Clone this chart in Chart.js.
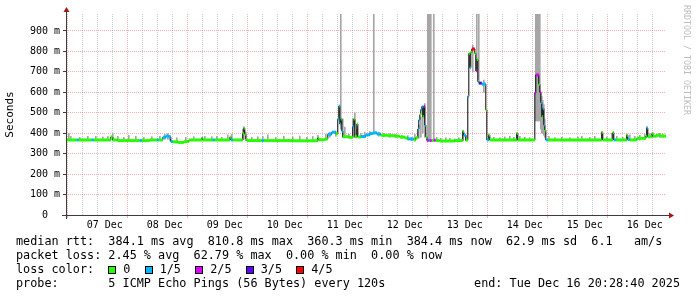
<!DOCTYPE html>
<html>
<head>
<meta charset="utf-8">
<script src="https://cdn.jsdelivr.net/npm/chart.js@4/dist/chart.umd.min.js"></script>
<style>
  html, body { margin: 0; padding: 0; background: #fff; }
  #wrap { position: relative; width: 697px; height: 297px; overflow: hidden; background: #fff; }
  #smoke-chart { position: absolute; left: 0; top: 0; }
  .leg { position: absolute; font: 11.8px 'DejaVu Sans Mono', monospace; white-space: pre; color: #000; line-height: 14px; }
  .box { display: inline-block; width: 6px; height: 6px; border: 1px solid #000; margin-right: 7px; vertical-align: -1px; }
  #credit { position: absolute; left: 682px; top: 5px; writing-mode: vertical-rl; font: 8.3px 'DejaVu Sans Mono', monospace; color: #bdbdbd; white-space: pre; line-height: 10px; }
</style>
</head>
<body>
<div id="wrap">
  <canvas id="smoke-chart" width="697" height="297"></canvas>
  <div class="leg" id="l1" style="left:16px; top:234px"></div>
  <div class="leg" id="l2" style="left:16px; top:248px"></div>
  <div class="leg" id="l3" style="left:16px; top:262px"></div>
  <div class="leg" id="l4" style="left:16px; top:276px"></div>
  <div class="leg" id="l5" style="right:17px; top:276px"></div>
  <div id="credit">RRDTOOL / TOBI OETIKER</div>
</div>
<script>
// time is day of December (decimal), window ends Tue Dec 16 20:28:40
const startDay = 6 + 20.478 / 24;
const endDay = 16 + 20.478 / 24;

const dayLabels = ['07 Dec', '08 Dec', '09 Dec', '10 Dec', '11 Dec', '12 Dec', '13 Dec', '14 Dec', '15 Dec', '16 Dec'];
const yTickLabels = ['0  ', '100 m', '200 m', '300 m', '400 m', '500 m', '600 m', '700 m', '800 m', '900 m'];

// median rtt (ms), step starts
const medianTime = [
  6.853, 7.033, 7.067, 7.283, 7.317, 7.600, 7.633, 7.717, 8.083, 8.117,
  8.250, 8.367, 8.400, 8.467, 8.517, 8.567, 8.600, 8.633, 8.717, 8.817,
  8.900, 9.117, 9.133, 9.300, 9.333, 9.583, 9.600, 9.633, 9.800, 9.817,
  9.833, 9.850, 9.867, 10.117, 10.150, 10.633, 11.050, 11.067, 11.167, 11.217,
  11.283, 11.350, 11.383, 11.400, 11.417, 11.433, 11.450, 11.467, 11.567, 11.633,
  11.650, 11.667, 11.700, 11.717, 11.767, 11.850, 11.917, 11.967, 12.033, 12.100,
  12.217, 12.333, 12.417, 12.500, 12.550, 12.650, 12.683, 12.717, 12.733, 12.750,
  12.767, 12.783, 12.800, 12.817, 12.833, 12.850, 12.867, 12.900, 12.917, 12.950,
  12.983, 13.017, 13.083, 13.333, 13.467, 13.483, 13.517, 13.550, 13.567, 13.583,
  13.600, 13.617, 13.667, 13.683, 13.700, 13.717, 13.733, 13.783, 13.850, 13.867,
  13.900, 13.917, 14.367, 14.383, 14.667, 14.683, 14.733, 14.750, 14.767, 14.783,
  14.800, 14.817, 14.833, 14.850, 14.883, 15.783, 15.800, 15.967, 15.983, 16.017,
  16.200, 16.217, 16.250, 16.367, 16.517, 16.533, 16.550, 16.617, 16.633, 16.683, 16.750
];
const medianRtt = [
  367, 367, 367, 367, 367, 382, 367, 364, 364, 364,
  367, 367, 367, 380, 386, 381, 359, 358, 355, 359,
  367, 378, 367, 367, 367, 380, 367, 367, 398, 424,
  395, 372, 364, 364, 364, 363, 377, 368, 372, 395,
  405, 398, 470, 533, 445, 470, 410, 383, 380, 432,
  470, 383, 445, 382, 384, 392, 398, 402, 396, 390,
  388, 385, 381, 377, 372, 367, 378, 420, 465, 490,
  515, 530, 480, 532, 440, 382, 365, 365, 364, 364,
  366, 364, 362, 364, 408, 390, 366, 580, 790, 720,
  795, 812, 790, 705, 760, 652, 645, 640, 514, 367,
  390, 367, 398, 367, 597, 685, 640, 600, 550, 480,
  520, 440, 416, 367, 367, 403, 367, 403, 367, 367,
  390, 370, 367, 375, 385, 425, 383, 398, 385, 390, 386
];
// lost pings out of 5
const medianLoss = [
  0, 1, 0, 1, 0, 0, 0, 0, 1, 0,
  0, 1, 0, 1, 1, 1, 1, 0, 0, 0,
  0, 0, 0, 1, 0, 0, 1, 0, 0, 0,
  0, 0, 0, 1, 0, 0, 0, 0, 0, 1,
  1, 0, 1, 1, 1, 0, 1, 0, 0, 1,
  0, 0, 0, 0, 1, 1, 1, 1, 1, 0,
  0, 0, 0, 0, 1, 0, 0, 1, 1, 0,
  1, 1, 0, 2, 1, 0, 2, 1, 2, 0,
  2, 0, 0, 0, 0, 1, 0, 1, 0, 1,
  0, 4, 0, 2, 0, 0, 3, 1, 0, 1,
  0, 0, 0, 0, 2, 2, 0, 2, 1, 0,
  1, 1, 0, 1, 0, 0, 0, 0, 1, 0,
  0, 1, 0, 0, 0, 1, 0, 0, 0, 0, 0
];

// smoke: spread of the single pings (ms)
const smokeTime = [
  6.900, 6.933, 7.083, 7.217, 7.350, 7.467, 7.550, 7.633, 7.717, 7.817,
  7.900, 8.017, 8.150, 8.283, 8.417, 8.500, 8.550, 8.583, 8.700, 8.850,
  8.983, 9.167, 9.283, 9.367, 9.450, 9.550, 9.617, 9.800, 9.817, 9.850,
  9.950, 10.050, 10.133, 10.217, 10.350, 10.483, 10.633, 10.750, 10.867, 10.967,
  11.050, 11.183, 11.250, 11.350, 11.433, 11.467, 11.500, 11.567, 11.633, 11.667,
  11.700, 11.767, 11.833, 11.917, 11.983, 12.067, 12.150, 12.250, 12.350, 12.450,
  12.550, 12.617, 12.667, 12.733, 12.767, 12.800, 12.833, 12.883, 12.900, 12.917,
  12.933, 12.983, 13.033, 13.100, 13.183, 13.250, 13.333, 13.400, 13.467, 13.517,
  13.633, 13.700, 13.733, 13.817, 13.900, 13.983, 14.083, 14.167, 14.250, 14.317,
  14.367, 14.417, 14.500, 14.583, 14.683, 14.700, 14.717, 14.733, 14.750, 14.767,
  14.783, 14.800, 14.817, 14.833, 14.900, 15.000, 15.117, 15.250, 15.383, 15.450,
  15.583, 15.667, 15.783, 15.867, 15.950, 16.033, 16.133, 16.200, 16.250, 16.333,
  16.417, 16.500, 16.533, 16.583, 16.633, 16.700, 16.750, 16.800
];
const smokeLow = [
  364, 364, 364, 364, 364, 364, 364, 364, 362, 362,
  362, 362, 362, 364, 364, 370, 370, 365, 352, 355,
  364, 364, 364, 364, 364, 364, 364, 368, 370, 364,
  362, 362, 362, 362, 362, 362, 360, 360, 360, 360,
  364, 366, 380, 385, 420, 378, 378, 376, 378, 378,
  378, 378, 385, 390, 395, 385, 382, 380, 378, 374,
  368, 364, 366, 375, 380, 400, 380, 362, 362, 362,
  362, 362, 360, 358, 358, 358, 358, 360, 364, 362,
  700, 760, 650, 600, 364, 364, 364, 364, 364, 364,
  364, 364, 364, 364, 460, 460, 460, 460, 460, 420,
  400, 400, 390, 380, 364, 364, 364, 364, 364, 364,
  364, 364, 364, 364, 364, 364, 364, 364, 364, 364,
  366, 372, 378, 378, 380, 380, 380, 380
];
const smokeHigh = [
  400, 385, 380, 385, 385, 382, 385, 398, 385, 380,
  390, 385, 380, 383, 385, 395, 398, 390, 378, 380,
  383, 385, 383, 385, 380, 392, 395, 420, 432, 405,
  380, 383, 385, 392, 380, 385, 382, 386, 380, 384,
  390, 395, 405, 410, 990, 470, 430, 395, 470, 500,
  420, 400, 405, 408, 990, 405, 400, 398, 395, 390,
  388, 380, 395, 440, 480, 520, 545, 990, 990, 990,
  990, 990, 380, 375, 378, 375, 372, 378, 415, 390,
  830, 990, 990, 660, 395, 380, 378, 382, 385, 380,
  402, 385, 380, 378, 990, 990, 990, 990, 990, 600,
  580, 560, 540, 470, 385, 378, 380, 378, 382, 385,
  380, 385, 408, 382, 400, 385, 380, 395, 392, 385,
  390, 395, 432, 398, 405, 395, 400, 395
];

const lossLabels = ['0', '1/5', '2/5', '3/5', '4/5'];
const lossColors = ['#26ff00', '#00b8ff', '#dd00ff', '#5e00ff', '#ff0000'];

const rttStats = ['384.1 ms avg', '810.8 ms max', '360.3 ms min', '384.4 ms now', '62.9 ms sd', '6.1   am/s'];
const lossStats = ['2.45 % avg', '62.79 % max', '0.00 % min', '0.00 % now'];

// legend lines
document.getElementById('l1').textContent = 'median rtt:  ' + rttStats.join('  ');
document.getElementById('l2').textContent = 'packet loss: ' + lossStats.join('  ');
document.getElementById('l3').innerHTML = 'loss color:  ' + lossLabels.map((l, i) =>
  '<span class="box" style="background:' + lossColors[i] + '"></span>' + l).join('  ');
document.getElementById('l4').textContent = 'probe:       5 ICMP Echo Pings (56 Bytes) every 120s';
document.getElementById('l5').textContent = 'end: Tue Dec 16 20:28:40 2025';

const majorGrid = 'rgba(230,60,60,0.4)';
const minorGrid = '#cacaca';
const none = 'rgba(0,0,0,0)';

const smokeData = smokeTime.map((t, i) => ({x: t, y: [smokeLow[i], smokeHigh[i]]}));
const medianData = medianTime.map((t, i) => ({x: t, y: medianRtt[i]}));
medianData.push({x: endDay, y: medianRtt[medianRtt.length - 1]});

// flat pieces of the median, coloured by loss
const lossData = [];
medianTime.forEach((t, i) => {
  const t2 = i + 1 < medianTime.length ? medianTime[i + 1] : endDay;
  lossData.push({x: t, y: medianRtt[i]}, {x: t2, y: medianRtt[i]}, {x: t2, y: null});
});

const xGrid = [];
for (let d = 7; d <= 16.75; d += 0.25) xGrid.push(d);
const yGrid = [];
for (let v = 0; v <= 950; v += 50) yGrid.push(v);

const isMidnight = c => c.tick && c.tick.value % 1 === 0;
const isHundred = c => c.tick && c.tick.value % 100 === 0;

const axisArrows = {
  id: 'axisArrows',
  afterDatasetsDraw(chart) {
    const {ctx, chartArea: a} = chart;
    ctx.save();
    ctx.strokeStyle = '#3c3c3c';
    ctx.lineWidth = 1;
    ctx.beginPath();
    ctx.moveTo(a.left - 4, a.bottom + 0.5);
    ctx.lineTo(a.right + 4, a.bottom + 0.5);
    ctx.moveTo(a.left + 0.5, a.bottom + 4);
    ctx.lineTo(a.left + 0.5, a.top - 3);
    ctx.stroke();
    ctx.fillStyle = '#a01818';
    ctx.beginPath();
    ctx.moveTo(a.left + 0.5, a.top - 7);
    ctx.lineTo(a.left - 2.5, a.top - 2);
    ctx.lineTo(a.left + 3.5, a.top - 2);
    ctx.fill();
    ctx.beginPath();
    ctx.moveTo(a.right + 8, a.bottom + 0.5);
    ctx.lineTo(a.right + 3, a.bottom - 2.5);
    ctx.lineTo(a.right + 3, a.bottom + 3.5);
    ctx.fill();
    ctx.restore();
  }
};

new Chart(document.getElementById('smoke-chart'), {
  type: 'line',
  data: {
    datasets: [
      {
        type: 'bar',
        data: smokeData,
        backgroundColor: '#a6a6a6',
        borderWidth: 0,
        barThickness: 1,
        order: 3
      },
      {
        data: medianData,
        borderColor: '#000',
        borderWidth: 1,
        stepped: 'before',
        pointRadius: 0,
        order: 2
      },
      {
        data: lossData,
        borderColor: lossColors[0],
        borderWidth: 3,
        borderCapStyle: 'butt',
        spanGaps: false,
        pointRadius: 0,
        segment: {
          borderColor: c => lossColors[medianLoss[Math.floor(c.p0DataIndex / 3)]]
        },
        order: 1
      }
    ]
  },
  options: {
    responsive: false,
    animation: false,
    devicePixelRatio: 1,
    layout: {padding: {top: 14, right: 31, left: 0, bottom: 0}},
    plugins: {legend: {display: false}, tooltip: {enabled: false}},
    scales: {
      x: {
        type: 'linear',
        min: startDay,
        max: endDay,
        offset: false,
        afterBuildTicks: s => { s.ticks = xGrid.map(v => ({value: v})); },
        afterFit: s => { s.height = 82; },
        ticks: {
          autoSkip: false,
          maxRotation: 0,
          padding: 1,
          color: '#000',
          font: {family: "'DejaVu Sans Mono'", size: 10},
          callback: v => (v % 1 === 0.5 ? dayLabels[v - 7.5] : '')
        },
        grid: {
          color: c => (isMidnight(c) ? majorGrid : minorGrid),
          tickColor: c => (isMidnight(c) ? majorGrid : none),
          tickLength: 3
        },
        border: {display: false, dash: [1, 1]}
      },
      y: {
        min: 0,
        max: 983,
        afterBuildTicks: s => { s.ticks = yGrid.map(v => ({value: v})); },
        afterFit: s => { s.width = 66; },
        ticks: {
          padding: 3,
          color: '#000',
          font: {family: "'DejaVu Sans Mono'", size: 10},
          callback: v => (v % 100 === 0 ? yTickLabels[v / 100] : '')
        },
        grid: {
          color: c => (isHundred(c) ? majorGrid : minorGrid),
          tickColor: c => (isHundred(c) ? '#3c3c3c' : none),
          tickLength: 3
        },
        border: {display: false, dash: [1, 1]},
        title: {
          display: true,
          text: 'Seconds',
          color: '#000',
          font: {family: "'DejaVu Sans Mono'", size: 11},
          padding: {top: 4, bottom: 0}
        }
      }
    }
  },
  plugins: [axisArrows]
});
</script>
</body>
</html>
